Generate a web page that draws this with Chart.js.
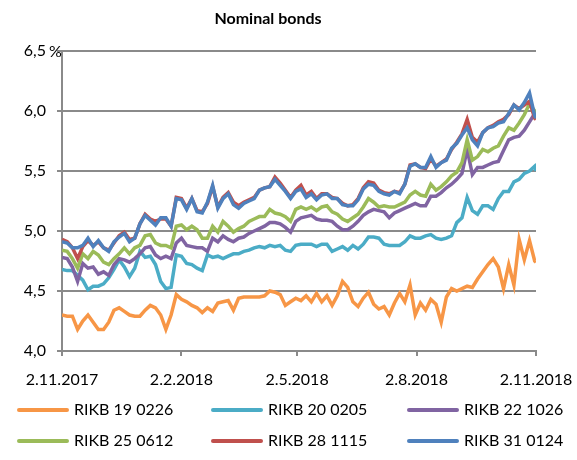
<!DOCTYPE html>
<html>
<head>
<meta charset="utf-8">
<script src="https://cdn.jsdelivr.net/npm/chart.js@4"></script>
<style>
  body { margin: 0; background: #fff; }
</style>
</head>
<body>
<canvas id="bonds" width="577" height="460"></canvas>
<script>
// days counted from 2.11.2017
const days = [0, 4, 8, 12, 16, 20, 24, 28, 32, 36, 40, 44, 48, 52, 56, 60, 64, 68, 72, 76, 80, 84, 88,
  92, 96, 100, 104, 108, 112, 116, 120, 124, 128, 132, 136, 140, 144, 148, 152, 156, 160, 164, 168, 172, 176, 180,
  184, 188, 192, 196, 200, 204, 208, 212, 216, 220, 224, 228, 232, 236, 240, 244, 248, 252, 256, 260, 264, 268, 272,
  276, 280, 284, 288, 292, 296, 300, 304, 308, 312, 316, 320, 324, 328, 332, 336, 340, 344, 348, 352, 356, 360, 364, 365];

const tickDays = [0, 92, 181, 273, 365];
const tickLabels = ['2.11.2017', '2.2.2018', '2.5.2018', '2.8.2018', '2.11.2018'];

const seriesNames = ['RIKB 19 0226', 'RIKB 20 0205', 'RIKB 22 1026', 'RIKB 25 0612', 'RIKB 28 1115', 'RIKB 31 0124'];
const seriesColors = ['#F79646', '#4BACC6', '#8064A2', '#9BBB59', '#C0504D', '#4F81BD'];

const rikb19 = [4.30, 4.29, 4.29, 4.18, 4.25, 4.30, 4.24, 4.18, 4.18, 4.24, 4.34, 4.36, 4.33, 4.30, 4.29, 4.29, 4.34, 4.38, 4.36, 4.30, 4.18, 4.30, 4.47,
  4.43, 4.41, 4.38, 4.36, 4.32, 4.36, 4.33, 4.40, 4.41, 4.42, 4.34, 4.44, 4.45, 4.45, 4.45, 4.45, 4.46, 4.50, 4.49, 4.47, 4.38, 4.41, 4.44,
  4.42, 4.46, 4.41, 4.48, 4.41, 4.46, 4.38, 4.46, 4.58, 4.53, 4.41, 4.37, 4.44, 4.49, 4.39, 4.35, 4.37, 4.30, 4.40, 4.48, 4.41, 4.55, 4.30,
  4.40, 4.34, 4.43, 4.39, 4.24, 4.45, 4.52, 4.50, 4.52, 4.54, 4.53, 4.60, 4.66, 4.72, 4.77, 4.70, 4.52, 4.72, 4.55, 4.93, 4.76, 4.92, 4.75, 4.74];

const rikb20 = [4.68, 4.67, 4.67, 4.63, 4.59, 4.51, 4.54, 4.54, 4.56, 4.61, 4.68, 4.76, 4.70, 4.62, 4.69, 4.83, 4.78, 4.79, 4.72, 4.58, 4.52, 4.53, 4.80,
  4.79, 4.73, 4.72, 4.69, 4.67, 4.80, 4.78, 4.79, 4.77, 4.79, 4.81, 4.81, 4.83, 4.84, 4.86, 4.87, 4.86, 4.88, 4.87, 4.88, 4.84, 4.83, 4.88,
  4.89, 4.89, 4.89, 4.87, 4.89, 4.89, 4.83, 4.85, 4.87, 4.84, 4.88, 4.85, 4.89, 4.95, 4.95, 4.94, 4.89, 4.88, 4.88, 4.88, 4.91, 4.96, 4.94,
  4.94, 4.96, 4.97, 4.94, 4.93, 4.94, 4.96, 5.07, 5.11, 5.28, 5.17, 5.14, 5.21, 5.21, 5.18, 5.27, 5.33, 5.33, 5.41, 5.43, 5.48, 5.50, 5.54, 5.50];

const rikb22 = [4.78, 4.77, 4.70, 4.58, 4.73, 4.69, 4.70, 4.64, 4.66, 4.63, 4.72, 4.77, 4.76, 4.74, 4.77, 4.81, 4.86, 4.87, 4.80, 4.77, 4.79, 4.77, 4.90,
  4.94, 4.88, 4.87, 4.86, 4.86, 4.83, 4.94, 4.91, 4.96, 4.93, 4.91, 4.94, 4.95, 4.98, 5.00, 5.02, 5.04, 5.07, 5.07, 5.06, 5.03, 4.99, 5.08,
  5.11, 5.12, 5.13, 5.10, 5.09, 5.09, 5.08, 5.04, 5.01, 5.01, 5.04, 5.08, 5.13, 5.16, 5.18, 5.17, 5.16, 5.11, 5.15, 5.17, 5.19, 5.21, 5.23,
  5.21, 5.21, 5.29, 5.29, 5.32, 5.36, 5.39, 5.43, 5.48, 5.68, 5.47, 5.53, 5.53, 5.55, 5.57, 5.58, 5.67, 5.76, 5.78, 5.79, 5.84, 5.91, 5.98, 5.97];

const rikb25 = [4.84, 4.83, 4.77, 4.69, 4.81, 4.77, 4.83, 4.80, 4.74, 4.72, 4.77, 4.81, 4.86, 4.81, 4.86, 4.88, 4.96, 4.97, 4.90, 4.88, 4.88, 4.86, 5.04,
  5.05, 5.01, 5.04, 5.01, 4.94, 4.94, 5.04, 4.99, 5.08, 5.04, 4.99, 5.02, 5.04, 5.08, 5.10, 5.12, 5.12, 5.18, 5.15, 5.14, 5.12, 5.08, 5.18,
  5.20, 5.18, 5.20, 5.17, 5.20, 5.21, 5.16, 5.14, 5.10, 5.08, 5.11, 5.14, 5.20, 5.27, 5.24, 5.20, 5.21, 5.20, 5.20, 5.22, 5.24, 5.30, 5.33,
  5.30, 5.29, 5.39, 5.34, 5.37, 5.41, 5.46, 5.49, 5.57, 5.76, 5.59, 5.62, 5.68, 5.66, 5.69, 5.71, 5.79, 5.86, 5.84, 5.90, 5.97, 6.06, 6.00, 5.98];

const rikb28 = [4.93, 4.91, 4.86, 4.77, 4.87, 4.92, 4.88, 4.91, 4.86, 4.84, 4.90, 4.96, 4.99, 4.93, 4.94, 5.06, 5.14, 5.10, 5.08, 5.10, 5.10, 5.04, 5.28,
  5.27, 5.19, 5.27, 5.17, 5.16, 5.23, 5.37, 5.20, 5.28, 5.32, 5.24, 5.21, 5.24, 5.26, 5.28, 5.34, 5.36, 5.37, 5.45, 5.40, 5.34, 5.28, 5.34,
  5.38, 5.30, 5.33, 5.27, 5.31, 5.31, 5.28, 5.27, 5.23, 5.21, 5.22, 5.27, 5.36, 5.41, 5.40, 5.34, 5.32, 5.31, 5.33, 5.32, 5.39, 5.55, 5.56,
  5.53, 5.52, 5.60, 5.54, 5.57, 5.60, 5.68, 5.74, 5.81, 5.93, 5.78, 5.74, 5.82, 5.86, 5.88, 5.91, 5.93, 5.97, 6.05, 6.02, 6.05, 6.08, 5.94, 5.93];

const rikb31 = [4.91, 4.90, 4.86, 4.86, 4.88, 4.94, 4.87, 4.92, 4.86, 4.83, 4.91, 4.95, 4.98, 4.91, 4.94, 5.06, 5.13, 5.09, 5.05, 5.11, 5.11, 5.04, 5.27,
  5.26, 5.18, 5.27, 5.16, 5.15, 5.24, 5.38, 5.19, 5.27, 5.31, 5.22, 5.19, 5.23, 5.25, 5.27, 5.34, 5.36, 5.37, 5.43, 5.38, 5.33, 5.27, 5.33,
  5.35, 5.28, 5.31, 5.26, 5.30, 5.31, 5.27, 5.27, 5.22, 5.21, 5.21, 5.26, 5.35, 5.39, 5.38, 5.33, 5.31, 5.30, 5.33, 5.31, 5.39, 5.54, 5.56,
  5.53, 5.53, 5.62, 5.53, 5.57, 5.59, 5.69, 5.73, 5.80, 5.86, 5.76, 5.71, 5.82, 5.86, 5.87, 5.90, 5.91, 5.98, 6.05, 6.01, 6.07, 6.15, 5.96, 5.94];

const allSeries = [rikb19, rikb20, rikb22, rikb25, rikb28, rikb31];

const gray = '#8a8a8a';

Chart.defaults.font.family = 'Lato';
Chart.defaults.font.size = 16;
Chart.defaults.color = '#000';

// legend under the chart, 3 per row, and the % sign by the top tick
const extras = {
  id: 'extras',
  afterDraw(chart) {
    const ctx = chart.ctx;
    const cols = [17, 211, 407];
    const rows = [410, 441];
    ctx.save();
    ctx.font = '16px Lato';
    ctx.textBaseline = 'middle';
    ctx.fillStyle = '#000';
    chart.data.datasets.forEach((ds, i) => {
      const x = cols[i % 3];
      const y = rows[Math.floor(i / 3)];
      ctx.strokeStyle = ds.borderColor;
      ctx.lineWidth = 4;
      ctx.lineCap = 'round';
      ctx.beginPath();
      ctx.moveTo(x + 2, y);
      ctx.lineTo(x + 50, y);
      ctx.stroke();
      ctx.fillText(ds.label, x + 57, y);
    });
    ctx.textAlign = 'left';
    ctx.fillText('%', 49, chart.chartArea.top + 1);
    ctx.restore();
  }
};

const datasets = allSeries.map((vals, i) => ({
  label: seriesNames[i],
  data: vals.map((v, j) => ({ x: days[j], y: v })),
  borderColor: seriesColors[i],
  borderWidth: 3.5,
  pointRadius: 0,
  tension: 0,
  fill: false,
  order: allSeries.length - i
}));

const chart = new Chart(document.getElementById('bonds'), {
  type: 'line',
  data: { datasets: datasets },
  options: {
    responsive: false,
    animation: false,
    layout: { padding: { left: 0, right: 41, top: 0, bottom: 0 } },
    plugins: {
      legend: { display: false },
      tooltip: { enabled: false },
      title: {
        display: true,
        text: 'Nominal bonds',
        font: { size: 16, weight: 'bold', lineHeight: 1.2 },
        color: '#000',
        padding: { top: 9, bottom: 22.8 }
      }
    },
    scales: {
      x: {
        type: 'linear',
        min: 0,
        max: 365,
        afterBuildTicks: (scale) => {
          scale.ticks = tickDays.map(v => ({ value: v }));
        },
        afterFit: (scale) => {
          scale.height = 109;
          scale.paddingLeft = 0;
          scale.paddingRight = 0;
        },
        ticks: {
          autoSkip: false,
          maxRotation: 0,
          padding: 14,
          callback: (v) => tickLabels[tickDays.indexOf(v)]
        },
        grid: { drawOnChartArea: false, drawTicks: true, tickLength: 5, color: gray, lineWidth: 2 },
        border: { color: gray, width: 2 }
      },
      y: {
        min: 4,
        max: 6.5,
        afterFit: (scale) => { scale.width = 62; },
        ticks: {
          stepSize: 0.5,
          padding: 11,
          callback: (v) => v.toFixed(1).replace('.', ',')
        },
        grid: { color: gray, lineWidth: 2, tickLength: 5 },
        border: { color: gray, width: 2 }
      }
    }
  },
  plugins: [extras]
});
</script>
</body>
</html>
